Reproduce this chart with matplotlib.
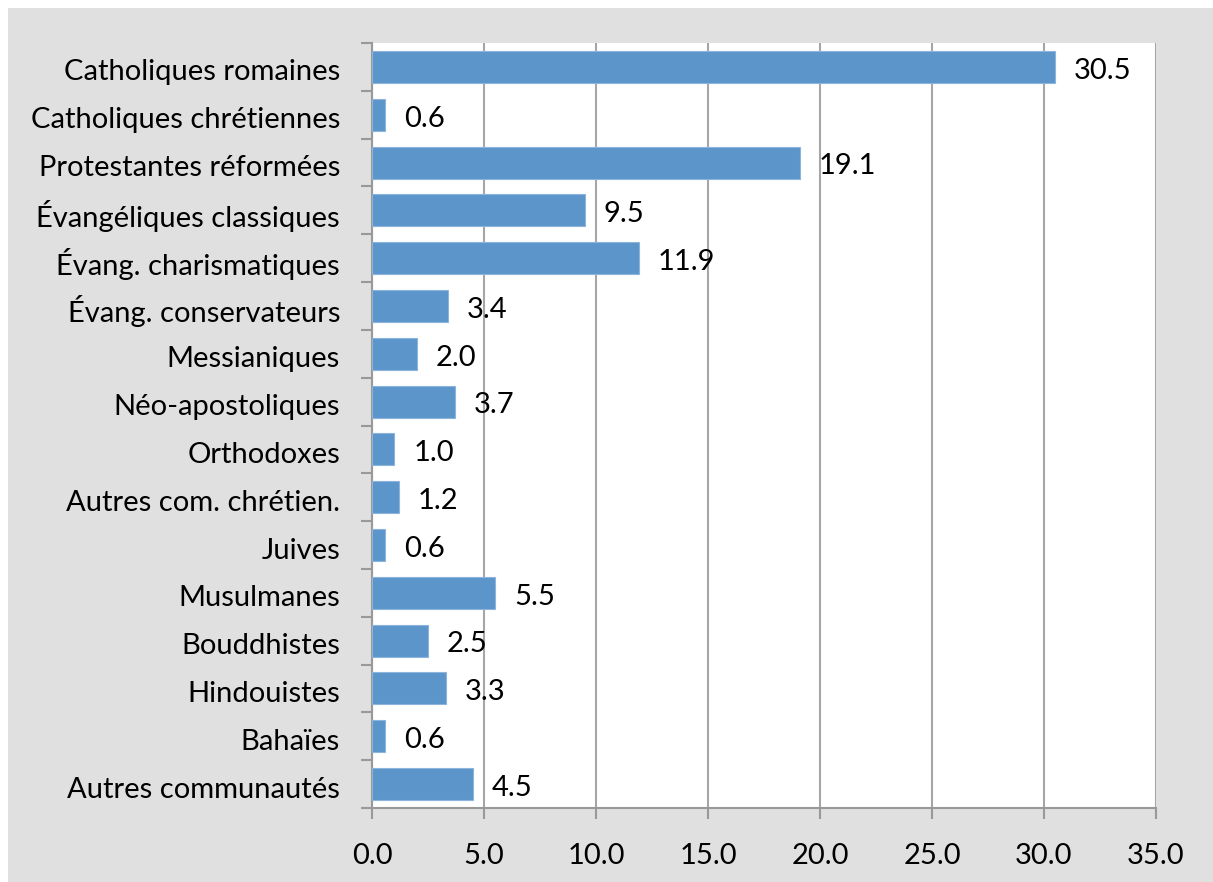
import matplotlib
matplotlib.use("Agg")
import matplotlib.pyplot as plt
import matplotlib.transforms as mtransforms
from matplotlib.patches import Rectangle
import numpy as np

categories = [
    "Catholiques romaines",
    "Catholiques chrétiennes",
    "Protestantes réformées",
    "Évangéliques classiques",
    "Évang. charismatiques",
    "Évang. conservateurs",
    "Messianiques",
    "Néo-apostoliques",
    "Orthodoxes",
    "Autres com. chrétien.",
    "Juives",
    "Musulmanes",
    "Bouddhistes",
    "Hindouistes",
    "Bahaïes",
    "Autres communautés",
]
values = [30.5, 0.6, 19.1, 9.5, 11.9, 3.4, 2.0, 3.7, 1.0, 1.2, 0.6, 5.5, 2.5, 3.3, 0.6, 4.5]
xticks = [0, 5, 10, 15, 20, 25, 30, 35]

plt.rcParams["font.family"] = ["Lato", "DejaVu Sans"]
FS = 21

W, H = 1213, 882
fig = plt.figure(figsize=(W / 100, H / 100), dpi=100)
fig.patches.append(Rectangle((8 / W, 0), 1, (H - 8) / H, transform=fig.transFigure,
                             facecolor="#e0e0e0", edgecolor="none", zorder=-10))

ax = fig.add_axes([372 / W, 1 - 808 / H, (1156 - 372) / W, (808 - 43) / H])
ax.set_facecolor("white")

y = np.arange(len(categories))
ax.barh(y, values, height=0.67, color="#5b95c9", edgecolor="#8db4dc", linewidth=0.8, zorder=3)

for yi, v in zip(y, values):
    ax.text(v + 0.85, yi + 0.08, f"{v:.1f}", va="center", ha="left", fontsize=FS, color="black", zorder=4)

ax.set_ylim(len(categories) - 0.5, -0.5)
ax.set_xlim(0, 35)
ax.set_yticks(y)
ax.set_yticklabels(categories, fontsize=FS)
ax.set_yticks(np.arange(-0.5, len(categories), 1.0), minor=True)
ax.tick_params(axis="y", which="major", length=0, pad=23)
ax.tick_params(axis="y", which="minor", length=8, color="#999999", width=1.5, direction="out")
ax.set_xticks(xticks)
ax.set_xticklabels([f"{t:.1f}" for t in xticks], fontsize=FS)
ax.tick_params(axis="x", length=8, color="#999999", width=1.5, direction="out", pad=17)

# nudge category labels down a little, like the original
shift = mtransforms.ScaledTranslation(0, -3 / 100, fig.dpi_scale_trans)
for lbl in ax.get_yticklabels():
    lbl.set_transform(lbl.get_transform() + shift)

ax.grid(axis="x", color="#a6a6a6", linewidth=1.5, zorder=0)
ax.set_axisbelow(True)
for side in ["top", "right"]:
    ax.spines[side].set_visible(False)
for side in ["left", "bottom"]:
    ax.spines[side].set_color("#999999")
    ax.spines[side].set_linewidth(1.5)

fig.savefig("out.png", dpi=100)
